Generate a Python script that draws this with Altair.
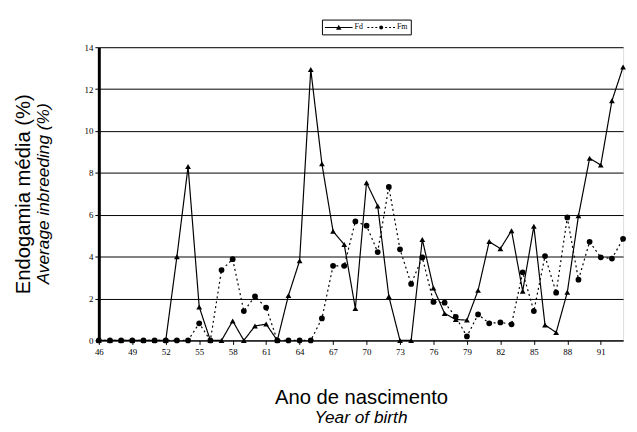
import altair as alt
import pandas as pd

years = list(range(46, 94))
fd = [0, 0, 0, 0, 0, 0, 0, 4.0, 8.3, 1.6, 0, 0, 0.93, 0, 0.69, 0.78, 0, 2.15, 3.8, 12.94,
      8.43, 5.21, 4.58, 1.52, 7.53, 6.42, 2.1, 0, 0, 4.82, 2.5, 1.29, 1.0, 0.97, 2.39, 4.72,
      4.38, 5.24, 2.35, 5.45, 0.74, 0.38, 2.3, 5.95, 8.7, 8.37, 11.44, 13.05]
fm = [0, 0, 0, 0, 0, 0, 0, 0, 0, 0.82, 0, 3.36, 3.88, 1.4, 2.1, 1.57, 0, 0, 0, 0,
      1.05, 3.56, 3.56, 5.68, 5.48, 4.22, 7.33, 4.35, 2.7, 3.96, 1.84, 1.8, 1.13, 0.19, 1.24, 0.82,
      0.86, 0.77, 3.25, 1.4, 4.03, 2.28, 5.87, 2.9, 4.71, 3.97, 3.91, 4.85]
series = ["Fd", "Fm"]
x_ticks = list(range(46, 92, 3))
y_ticks = list(range(0, 15, 2))

rows = []
for name, vals in zip(series, [fd, fm]):
    for yr, v in zip(years, vals):
        rows.append({"year": yr, "value": v, "series": name})
df = pd.DataFrame(rows)

SERIF = "Liberation Serif"
SANS = "Liberation Sans"

x_enc = alt.X("year:Q", scale=alt.Scale(domain=[46, 93], nice=False, zero=False),
              axis=alt.Axis(values=x_ticks, format="d", grid=False, title="Ano de nascimento",
                            titleX=265.5, titleY=64, titleBaseline="alphabetic", titleAlign="center",
                            titleFont=SANS, titleFontSize=20.5, titleFontWeight="normal",
                            titleColor="black", labelFont=SERIF, labelFontSize=9, labelColor="black",
                            labelOverlap=False, labelFlush=False, labelBound=False,
                            tickColor="black", tickSize=4, labelPadding=3,
                            domainColor="black", domainWidth=1))
y_enc = alt.Y("value:Q", scale=alt.Scale(domain=[0, 14], nice=False),
              axis=alt.Axis(values=y_ticks, grid=True, gridColor="black", gridWidth=1, gridOpacity=1,
                            title="Endogamia média (%)", titleX=-70, titleY=148.5, titleAngle=270,
                            titleBaseline="alphabetic", titleAlign="center", titleFont=SANS,
                            titleFontSize=20.5, titleFontWeight="normal", titleColor="black",
                            labelFont=SERIF, labelFontSize=9, labelColor="black", labelPadding=2,
                            labelOverlap=False, labelFlush=False,
                            tickColor="black", tickSize=4, domainColor="black", domainWidth=3))

base = alt.Chart(df)

lines = base.mark_line(color="black", strokeWidth=1.2).encode(
    x=x_enc, y=y_enc,
    strokeDash=alt.StrokeDash("series:N", scale=alt.Scale(domain=series, range=[[1, 0], [2, 3]]),
                              legend=None),
)

points = base.mark_point(filled=True, size=34, opacity=1, color="black").encode(
    x=x_enc, y=y_enc,
    shape=alt.Shape("series:N", scale=alt.Scale(domain=series, range=["triangle-up", "circle"]),
                    legend=None),
)


def seg(a, b):
    return "M%g,-0.1H%gV0.1H%gZ" % (a, b, a)


# legend symbols: line (thin filled bars) + marker, as custom symbol paths
fd_path = seg(-1, 4.6) + "M1.8,-0.55L2.35,0.45L1.25,0.45Z"
fm_path = ("".join(seg(a, a + 0.4) for a in [-1, -0.2, 0.6, 2.6, 3.4, 4.2])
           + "M1.4,0A0.4,0.4,0,1,0,2.2,0A0.4,0.4,0,1,0,1.4,0Z")

legend_layer = alt.Chart(pd.DataFrame({"lg": series})).transform_filter("false").mark_point(
    filled=True, color="black", opacity=1).encode(
    x=alt.value(0), y=alt.value(0),
    shape=alt.Shape("lg:N", scale=alt.Scale(domain=series, range=[fd_path, fm_path]),
                    legend=alt.Legend(
                        title=None, orient="none", legendX=226, legendY=-28, direction="horizontal",
                        strokeColor="black", padding=3, labelFont=SERIF, labelFontSize=8,
                        labelColor="black", symbolSize=100, labelOffset=20, columnPadding=4,
                        symbolFillColor="black", symbolStrokeWidth=0, symbolOpacity=1,
                    )),
)

sub_y = alt.Chart(pd.DataFrame({"t": ["Average inbreeding (%)"]})).mark_text(
    angle=270, font=SANS, fontStyle="italic", fontSize=17.5, baseline="alphabetic",
    align="center", color="black").encode(x=alt.value(-50), y=alt.value(148.5), text="t:N")

sub_x = alt.Chart(pd.DataFrame({"t": ["Year of birth"]})).mark_text(
    font=SANS, fontStyle="italic", fontSize=17.5, baseline="alphabetic",
    align="center", color="black").encode(x=alt.value(265.5), y=alt.value(380.5), text="t:N")

chart = alt.layer(lines, points, legend_layer, sub_y, sub_x).resolve_scale(
    shape="independent"
).properties(
    width=531, height=297,
    autosize=alt.AutoSizeParams(type="none"),
    padding={"left": 92, "top": 37, "right": 6, "bottom": 88},
).configure_view(strokeWidth=0).configure_axis(labelOverlap=False).configure(background="white")

chart.save("out.html", embed_options={"renderer": "svg", "actions": False})
